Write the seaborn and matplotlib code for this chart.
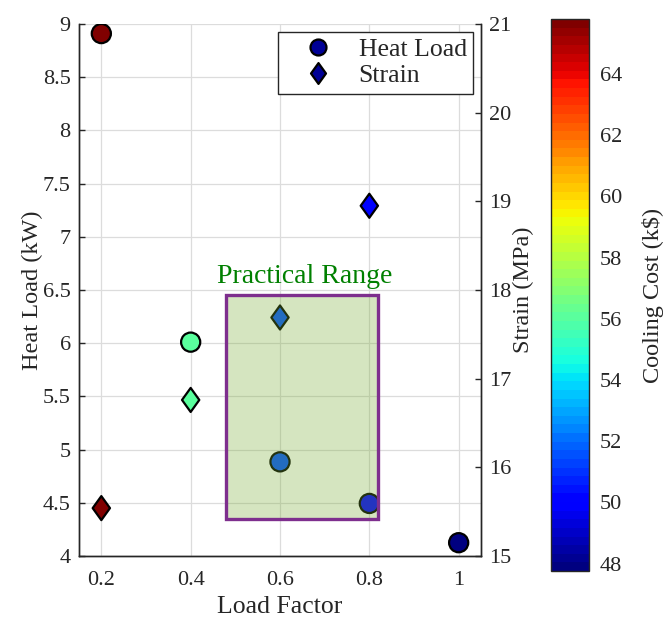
import numpy as np
import pandas as pd
import matplotlib
matplotlib.use("Agg")
import matplotlib.pyplot as plt
import seaborn as sns
from matplotlib.path import Path
from matplotlib.patches import Rectangle
from matplotlib.lines import Line2D
from matplotlib.colors import Normalize, ListedColormap
from matplotlib.cm import ScalarMappable
from matplotlib.ticker import FuncFormatter

# ---------------- data ----------------
load_factor = [0.2, 0.4, 0.6, 0.8, 1.0]
heat_load = [8.91, 6.01, 4.885, 4.494, 4.125]          # kW (left axis)
strain = [15.54, 16.76, 17.69, 18.95, np.nan]          # MPa (right axis)
cooling_cost = [65.8, 56.0, 51.6, 50.05, 47.76]       # k$ (colour)

x_ticks = [0.2, 0.4, 0.6, 0.8, 1.0]
x_tick_labels = ["0.2", "0.4", "0.6", "0.8", "1"]
left_ticks = [4, 4.5, 5, 5.5, 6, 6.5, 7, 7.5, 8, 8.5, 9]
right_ticks = [15, 16, 17, 18, 19, 20, 21]
cbar_ticks = [48, 50, 52, 54, 56, 58, 60, 62, 64]

range_x = (0.48, 0.82)
range_y = (4.35, 6.45)
range_label = "Practical Range"

df = pd.DataFrame({"load": load_factor, "heat": heat_load,
                   "strain": strain, "cost": cooling_cost})

# ---------------- style ----------------
sns.set_style("white")
plt.rcParams["font.family"] = ["Liberation Serif", "DejaVu Serif"]
plt.rcParams["axes.edgecolor"] = "#262626"
plt.rcParams["xtick.color"] = "#262626"
plt.rcParams["ytick.color"] = "#262626"

cmap = ListedColormap(plt.get_cmap("jet")(np.linspace(0, 1, 64)))
norm = Normalize(vmin=min(cooling_cost), vmax=max(cooling_cost))

diamond = Path([(0, 1), (0.72, 0), (0, -1), (-0.72, 0), (0, 1)],
               [Path.MOVETO, Path.LINETO, Path.LINETO, Path.LINETO, Path.CLOSEPOLY])

fig = plt.figure(figsize=(6.7, 6.18), dpi=100)
ax = fig.add_axes([79 / 670, 62 / 618, 402 / 670, 532 / 618])
ax2 = ax.twinx()
cax = fig.add_axes([551 / 670, 47 / 618, 38 / 670, 552 / 618])

ax.grid(True, color="#dcdcdc", lw=0.9)
ax.set_axisbelow(True)

sns.scatterplot(data=df, x="load", y="heat", hue="cost", palette=cmap,
                hue_norm=norm, marker="o", s=190, edgecolor="black",
                linewidth=1.6, legend=False, ax=ax, zorder=3)
sns.scatterplot(data=df.dropna(subset=["strain"]), x="load", y="strain",
                hue="cost", palette=cmap, hue_norm=norm, marker=diamond,
                s=300, edgecolor="black", linewidth=1.6, legend=False,
                ax=ax2, zorder=3)

ax.set_xlim(0.15, 1.05)
ax.set_ylim(4, 9)
ax2.set_ylim(15, 21)

ax.set_xticks(x_ticks)
ax.set_xticklabels(x_tick_labels)
ax.set_yticks(left_ticks)
ax.yaxis.set_major_formatter(FuncFormatter(lambda v, p: f"{v:g}"))
ax2.set_yticks(right_ticks)

rect = Rectangle((range_x[0], range_y[0]), range_x[1] - range_x[0],
                 range_y[1] - range_y[0], transform=ax.transData,
                 facecolor=(0.466, 0.674, 0.188, 0.3),
                 edgecolor=(0.494, 0.184, 0.556), lw=2.4, zorder=5)
ax2.add_patch(rect)
ax2.text((range_x[0] + range_x[1]) / 2 + 0.005, range_y[1] + 0.12, range_label,
         transform=ax.transData, ha="center", va="baseline",
         color="#008000", fontsize=20, zorder=6)

ax.set_xlabel("Load Factor", fontsize=18.5, labelpad=4)
ax.set_ylabel("Heat Load (kW)", fontsize=17.5, labelpad=0)
ax2.set_ylabel("Strain (MPa)", fontsize=17.5, labelpad=1)

for a in (ax, ax2):
    a.spines["top"].set_visible(False)
    for s in a.spines.values():
        s.set_linewidth(1.0)
ax.tick_params(axis="both", direction="in", length=4, width=1, labelsize=16,
               top=False, right=False)
ax.tick_params(axis="x", pad=11)
ax.tick_params(axis="y", pad=6)
ax2.tick_params(axis="y", direction="in", length=4, width=1, labelsize=16, pad=6)

handles = [
    Line2D([], [], marker="o", ls="none", markersize=11.5,
           markerfacecolor="#000096", markeredgecolor="black", markeredgewidth=1.6),
    Line2D([], [], marker=diamond, ls="none", markersize=15,
           markerfacecolor="#000096", markeredgecolor="black", markeredgewidth=1.6),
]
leg = ax2.legend(handles, ["Heat Load", "Strain"], loc="upper right",
                 fontsize=18.5, frameon=True, fancybox=False, framealpha=1,
                 edgecolor="#262626", borderaxespad=0.3, handletextpad=0.25,
                 handlelength=2.65, borderpad=0.25, labelspacing=0.12)
leg.get_frame().set_linewidth(1.0)
leg.set_zorder(10)

cb = fig.colorbar(ScalarMappable(norm=norm, cmap=cmap), cax=cax)
cb.set_ticks(cbar_ticks)
cb.outline.set_linewidth(1.0)
cax.tick_params(direction="in", length=4, width=1, labelsize=16, pad=8)
cb.set_label("Cooling Cost (k$)", fontsize=17.5, labelpad=14)

fig.savefig("out.png", dpi=100)
